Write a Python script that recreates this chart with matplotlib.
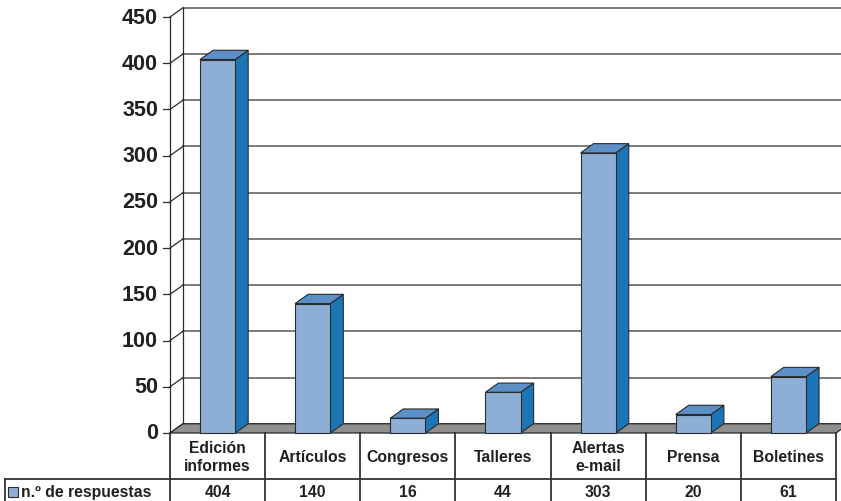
import matplotlib.pyplot as plt
from matplotlib.patches import Polygon, Rectangle

categories = ['Edición\ninformes', 'Artículos', 'Congresos', 'Talleres',
              'Alertas\ne-mail', 'Prensa', 'Boletines']
respuestas = [404, 140, 16, 44, 303, 20, 61]
y_ticks = [0, 50, 100, 150, 200, 250, 300, 350, 400, 450]
serie = 'n.º de respuestas'

plt.rcParams['font.family'] = ['Liberation Sans', 'DejaVu Sans']
plt.rcParams['font.weight'] = 'bold'

W, H = 841, 502
fig = plt.figure(figsize=(W / 100, H / 100), dpi=100)
ax = fig.add_axes([170 / W, (H - 434) / H, 666 / W, 416 / H])
ax.set_xlim(0, 7)
ax.set_ylim(0, 450)
ax.axis('off')

px_x = 666 / 7      # pixels per category
px_y = 416 / 450    # pixels per unit
dx = 13 / px_x      # depth offset
dy = 10

front_c = '#8dafd6'
side_c = '#1c75b4'
top_c = '#5b8fc6'
edge = '#2a2a2a'
grid_c = '#707070'
txt_c = '#231f20'

# back wall gridlines and left wall diagonals
for v in y_ticks:
    ax.plot([dx, 7.3], [v + dy, v + dy], color=grid_c, lw=1.3, clip_on=False, zorder=1)
    ax.plot([0, dx], [v, v + dy], color=edge, lw=0.9, clip_on=False, zorder=1)
    ax.plot([-7 / px_x, 0], [v, v], color=edge, lw=0.9, clip_on=False, zorder=1)
    ax.text(-12 / px_x, v, str(v), ha='right', va='center', fontsize=15.5,
            fontweight='bold', color=txt_c)
ax.plot([0, 0], [0, 450], color=edge, lw=0.9, clip_on=False, zorder=2)
ax.plot([dx, dx], [dy, 450 + dy], color=edge, lw=0.9, clip_on=False, zorder=1)

# floor
ax.add_patch(Polygon([(0, 0), (7, 0), (7 + dx, dy), (dx, dy)], closed=True,
                     facecolor='#8f8f8f', edgecolor=edge, lw=0.9, clip_on=False, zorder=2))

# bars
bw = 0.37
for i, v in enumerate(respuestas):
    x0 = i + 0.5 - bw / 2
    x1 = x0 + bw
    ax.add_patch(Polygon([(x1, 0), (x1 + dx, dy), (x1 + dx, v + dy), (x1, v)],
                         facecolor=side_c, edgecolor=edge, lw=0.8, clip_on=False, zorder=3))
    ax.add_patch(Polygon([(x0, v), (x1, v), (x1 + dx, v + dy), (x0 + dx, v + dy)],
                         facecolor=top_c, edgecolor=edge, lw=0.8, clip_on=False, zorder=3))
    ax.add_patch(Rectangle((x0, 0), bw, v, facecolor=front_c, edgecolor=edge,
                           lw=0.8, clip_on=False, zorder=4))

# data table
r1 = -46 / px_y
r2 = -80 / px_y
left = -165 / px_x
tl = dict(color='#333333', lw=1.3, clip_on=False, zorder=5)
ax.plot([0, 7], [r1, r1], **tl)
ax.plot([left, 0], [r1, r1], **tl)
ax.plot([left, left], [r1, r2], **tl)
for k in range(8):
    ax.plot([k, k], [0, r2], **tl)
for i, (c, v) in enumerate(zip(categories, respuestas)):
    ax.text(i + 0.5, -23.5 / px_y, c, ha='center', va='center', fontsize=11.3,
            fontweight='bold', color=txt_c, linespacing=1.2)
    ax.text(i + 0.5, -59 / px_y, str(v), ha='center', va='center', fontsize=11.3,
            fontweight='bold', color=txt_c)
ax.add_patch(Rectangle((-162 / px_x, -64 / px_y), 10 / px_x, 10 / px_y,
                       facecolor=front_c, edgecolor=edge, lw=0.8, clip_on=False, zorder=5))
ax.text(-149 / px_x, -59 / px_y, serie, ha='left', va='center', fontsize=11.3,
        fontweight='bold', color=txt_c)

fig.savefig('out.png', dpi=100)
